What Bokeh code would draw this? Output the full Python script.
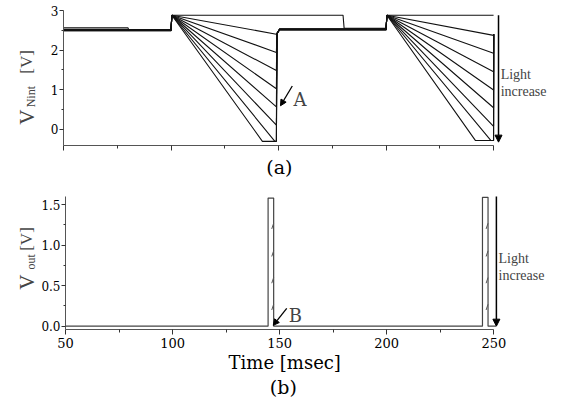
from bokeh.plotting import figure
from bokeh.layouts import column, row
from bokeh.models import (Range1d, FixedTicker, PrintfTickFormatter, Label, Arrow,
                          NormalHead, LinearAxis)
from bokeh.embed import file_html
from bokeh.resources import INLINE
import math

# ---------------- data ----------------
x_major = [50, 100, 150, 200, 250]
x_minor = [75, 125, 175, 225]

# (a) V_Nint : unlit (dark) pixel trace
dark_t = [50, 80, 80.4, 100, 100.4, 180, 180.5, 200, 200.4, 250]
dark_v = [2.56, 2.56, 2.50, 2.50, 2.88, 2.88, 2.55, 2.55, 2.88, 2.88]

# (a) V_Nint : lit pixel traces (light increases down the list)
base_a = [2.49, 2.50, 2.51, 2.50, 2.49, 2.51, 2.50, 2.52]      # 50-100 ms level
ramp1_knee_t = [149, 149, 149, 149, 149, 149, 148.3, 142.5]    # ramp end / saturation time
ramp1_end = [2.40, 1.94, 1.48, 1.02, 0.56, 0.10, -0.31, -0.31]
base_b = [2.51, 2.52, 2.53, 2.52, 2.51, 2.53, 2.52, 2.54]      # 150-200 ms level
ramp2_knee_t = [250, 250, 250, 250, 250, 250, 248.8, 241.6]
ramp2_end = [2.37, 1.92, 1.45, 0.99, 0.54, 0.07, -0.29, -0.29]
reset_v = [2.42, 2.40]
ramp_top = 2.88

# (b) V_out
vout_t = [50, 144.6, 144.6, 147.2, 147.2, 244.7, 244.7, 247.3, 247.3, 251]
vout_v = [0, 0, 1.58, 1.58, 0, 0, 1.59, 1.59, 0, 0]
mark_h = [0.22, 0.55, 0.88, 1.22]
pulse_t = [[146.3, 147.2], [246.4, 247.3]]

SERIF = "DejaVu Serif"
TIMES = "Liberation Serif"
NB = "\u00a0"
STRIP = 38

def clean(p):
    p.xgrid.visible = False
    p.ygrid.visible = False
    p.outline_line_color = None
    p.background_fill_color = "white"
    p.border_fill_color = "white"

def style(p, yticks, yminor, ybounds):
    clean(p)
    for ax in (p.xaxis[0], p.yaxis[0]):
        ax.axis_line_color = "#555555"
        ax.major_tick_line_color = "#333333"
        ax.minor_tick_line_color = "#333333"
        ax.major_tick_in = 0
        ax.minor_tick_in = 0
        ax.major_tick_out = 5
        ax.minor_tick_out = 3
        ax.major_label_text_font = SERIF
        ax.major_label_text_color = "black"
        ax.axis_label_text_font = SERIF
        ax.axis_label_text_font_style = "normal"
        ax.axis_label_text_color = "black"
    p.xaxis.ticker = FixedTicker(ticks=x_major, minor_ticks=x_minor)
    p.xaxis.bounds = (50, 250)
    p.yaxis.ticker = FixedTicker(ticks=yticks, minor_ticks=yminor)
    p.yaxis.bounds = ybounds
    p.yaxis.major_tick_out = 4
    p.yaxis.minor_tick_out = 2
    p.yaxis.major_label_text_font_size = "12px"
    p.yaxis.major_label_standoff = 1
    p.xaxis.major_label_text_font_size = "13px"
    p.xaxis.major_label_standoff = 3

def title_strip(yr, height, top, bottom, sub, y_main, y_sub, y_unit):
    f = figure(width=STRIP, height=height, output_backend="svg", toolbar_location=None,
               x_range=Range1d(0, STRIP), y_range=yr,
               min_border_left=0, min_border_right=0, min_border_top=top,
               min_border_bottom=bottom)
    clean(f)
    f.axis.visible = False
    f.add_layout(Label(x=26.5, y=y_main, text="V", text_font=TIMES, text_font_size="21px",
                       angle=math.pi / 2, text_baseline="alphabetic"))
    f.add_layout(Label(x=30.5, y=y_sub, text=sub, text_font=TIMES, text_font_size="12px",
                       angle=math.pi / 2, text_baseline="alphabetic"))
    f.add_layout(Label(x=26, y=y_unit, text="[V]", text_font=TIMES, text_font_size="17px",
                       angle=math.pi / 2, text_baseline="alphabetic"))
    return f

# ---------------- panel (a) ----------------
p1 = figure(width=565 - STRIP, height=180, output_backend="svg", toolbar_location=None,
            x_range=Range1d(50, 278.8), y_range=Range1d(-0.415, 3.0),
            min_border_left=63 - STRIP, min_border_right=10, min_border_top=10,
            min_border_bottom=34)
style(p1, [0, 1, 2, 3], [0.5, 1.5, 2.5], (-0.415, 3.0))
p1.xaxis.major_label_overrides = {t: "" for t in x_major}
p1.xaxis.major_label_text_font_size = "0px"
p1.xaxis.major_label_standoff = 0
p1.xaxis.axis_label = "(a)" + NB * 10
p1.xaxis.axis_label_text_font_size = "19px"
p1.xaxis.axis_label_standoff = 5

xs, ys = [], []
for i in range(len(ramp1_end)):
    tt = [50, 100, 100.4, ramp1_knee_t[i], 149, 149.3, 150.5, 200, 200.4,
          ramp2_knee_t[i], 250, 250.05]
    vv = [base_a[i], base_a[i], ramp_top, ramp1_end[i], ramp1_end[i], reset_v[0], base_b[i],
          base_b[i], ramp_top, ramp2_end[i], ramp2_end[i], reset_v[1]]
    xs.append(tt)
    ys.append(vv)
p1.multi_line(xs, ys, line_color="#111111", line_width=1.1)
p1.line(dark_t, dark_v, line_color="#111111", line_width=1.1)

p1.add_layout(Arrow(end=NormalHead(size=7, fill_color="black", line_color="black"),
                    x_start=252.3, y_start=2.88, x_end=252.3, y_end=-0.33,
                    line_width=1.5, line_color="black"))
p1.add_layout(Label(x=253.3, y=1.38, text="Light", text_font=TIMES, text_font_size="14px",
                    text_baseline="alphabetic"))
p1.add_layout(Label(x=253.3, y=0.94, text="increase", text_font=TIMES, text_font_size="14px",
                    text_baseline="alphabetic"))
p1.add_layout(Arrow(end=NormalHead(size=6, fill_color="black", line_color="black"),
                    x_start=156.4, y_start=1.09, x_end=150.9, y_end=0.59,
                    line_width=1.3, line_color="black"))
p1.add_layout(Label(x=157.0, y=0.74, text="A", text_font=SERIF, text_font_size="18px",
                    text_baseline="alphabetic"))

s1 = title_strip(p1.y_range, 180, 10, 34, "Nint", 0.113, 0.55, 1.40)

# ---------------- panel (b) ----------------
p2 = figure(width=565 - STRIP, height=221, output_backend="svg", toolbar_location=None,
            x_range=Range1d(50, 278.8), y_range=Range1d(-0.041, 1.674),
            min_border_left=63 - STRIP, min_border_right=10, min_border_top=10,
            min_border_bottom=72)
style(p2, [0, 0.5, 1.0, 1.5], [0.25, 0.75, 1.25], (-0.041, 1.6))
p2.yaxis.formatter = PrintfTickFormatter(format="%.1f")
p2.xaxis.axis_label = "Time [msec]" + NB * 9
p2.xaxis.axis_label_text_font_size = "18px"
p2.xaxis.axis_label_standoff = 1

ax_b = LinearAxis(ticker=FixedTicker(ticks=[]), bounds=(50, 250), axis_line_color=None,
                  major_tick_line_color=None, minor_tick_line_color=None,
                  major_label_text_font_size="0px", major_label_standoff=0,
                  axis_label="(b)" + NB * 9, axis_label_text_font=SERIF,
                  axis_label_text_font_style="normal", axis_label_text_font_size="19px",
                  axis_label_text_color="black", axis_label_standoff=0)
p2.add_layout(ax_b, "below")

p2.line(vout_t, vout_v, line_color="#444444", line_width=1.2)
mx, my = [], []
for pt in pulse_t:
    for h in mark_h:
        mx.append(pt)
        my.append([h - 0.02, h + 0.05])
p2.multi_line(mx, my, line_color="#555555", line_width=1)

p2.add_layout(Arrow(end=NormalHead(size=7, fill_color="black", line_color="black"),
                    x_start=251.2, y_start=1.6, x_end=251.2, y_end=0.0,
                    line_width=1.5, line_color="black"))
p2.add_layout(Label(x=252.2, y=0.84, text="Light", text_font=TIMES, text_font_size="14px",
                    text_baseline="alphabetic"))
p2.add_layout(Label(x=252.2, y=0.62, text="increase", text_font=TIMES, text_font_size="14px",
                    text_baseline="alphabetic"))
p2.add_layout(Arrow(end=NormalHead(size=6, fill_color="black", line_color="black"),
                    x_start=153.3, y_start=0.22, x_end=147.0, y_end=0.01,
                    line_width=1.3, line_color="black"))
p2.add_layout(Label(x=154.2, y=0.136, text="B", text_font=SERIF, text_font_size="18px",
                    text_baseline="alphabetic"))

s2 = title_strip(p2.y_range, 221, 10, 72, "out", 0.45, 0.70, 0.93)

layout = column(row(s1, p1, spacing=0), row(s2, p2, spacing=0), spacing=0)
open("out.html", "w").write(file_html(layout, INLINE))
